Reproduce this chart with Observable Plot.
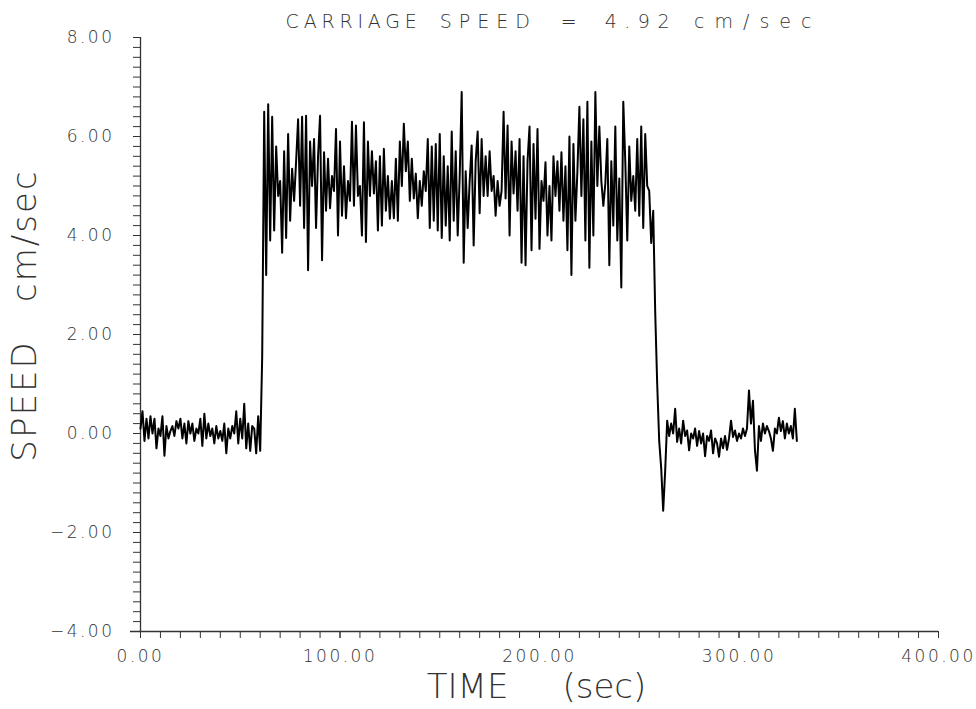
<!DOCTYPE html>
<html><head><meta charset="utf-8">
<script src="https://cdn.jsdelivr.net/npm/d3@7"></script>
<script src="https://cdn.jsdelivr.net/npm/@observablehq/plot@0.6"></script>
<style>body{margin:0;background:#fff}</style>
</head><body><div id="chart"></div>
<script>
const titleWords = ["CARRIAGE", "SPEED", "=", "4.92", "cm/sec"];
const titleSpacing = [4.8, 7, 0, 7.5, 10];
const titleGaps = [0, 18, 24, 28, 17];
const xLabel = "TIME\u00a0\u00a0\u00a0\u00a0\u00a0(sec)";
const yLabel = "SPEED\u00a0\u00a0\u00a0cm/sec";

// speed samples, one per second
const beforeStart = 0;
const beforeSpeed = [
  0.1, 0.45, -0.15, 0.3, -0.1, 0.35, 0.0, 0.3, -0.3, 0.1,
  -0.05, 0.35, -0.45, 0.15, -0.1, 0.05, 0.15, -0.05, 0.25, 0.1,
  0.3, -0.1, 0.2, -0.2, 0.25, 0.0, 0.2, -0.15, 0.1, 0.0,
  0.3, -0.25, 0.4, -0.1, 0.2, -0.05, 0.1, -0.2, 0.15, -0.1,
  0.05, -0.15, 0.2, -0.4, 0.1, -0.1, 0.15, 0.0, 0.45, -0.2,
  0.3, -0.1, 0.6, -0.3, 0.2, -0.35, 0.15, 0.1, -0.4, 0.35,
  -0.35
];
const runStart = 61;
const runSpeed = [
  1.55,
  6.5, 3.2, 6.65, 3.9, 6.4, 4.1, 5.8, 4.8, 5.1, 3.65,
  5.7, 3.95, 6.05, 4.3, 5.35, 4.7, 5.5, 6.35, 4.6, 6.4,
  4.15, 6.42, 3.3, 5.9, 5.0, 5.95, 4.15, 5.6, 6.42, 3.5,
  5.68, 4.5, 5.55, 4.55, 5.2, 4.9, 6.15, 4.0, 5.9, 4.4,
  5.4, 4.35, 5.1, 4.7, 6.3, 4.6, 6.22, 4.8, 5.0, 4.0,
  6.29, 3.87, 5.9, 4.8, 5.7, 4.85, 5.5, 4.1, 5.6, 4.2,
  5.75, 4.5, 5.2, 4.34, 5.1, 4.35, 5.55, 4.3, 5.9, 5.0,
  6.26, 5.3, 5.9, 4.7, 5.55, 4.75, 5.25, 4.35, 5.1, 4.6,
  5.3, 4.9, 5.95, 4.15, 5.8, 4.3, 5.85, 4.1, 6.05, 3.95,
  5.6, 4.2, 5.4, 3.9, 6.1, 4.3, 5.7, 4.0, 5.2, 6.9,
  3.45, 5.3, 4.15, 5.1, 5.82, 3.8, 5.5, 6.1, 4.45, 5.95,
  4.8, 5.6, 4.8, 5.7, 4.9, 5.2, 4.4, 5.1, 4.6, 4.9,
  6.5, 4.75, 6.22, 4.0, 5.9, 4.85, 5.7, 4.5, 5.95, 3.45,
  5.6, 3.4, 5.5, 6.2, 3.7, 5.85, 4.34, 6.15, 3.73, 5.1,
  4.7, 5.48, 4.0, 5.0, 3.9, 5.6, 4.8, 5.5, 4.5, 5.68,
  4.3, 5.4, 3.7, 6.0, 3.2, 5.85, 4.3, 5.3, 6.6, 4.8,
  6.35, 3.9, 6.7, 3.35, 5.9, 4.0, 6.9, 5.0, 6.2, 5.1,
  4.6, 5.05, 5.95, 3.4, 5.5, 4.2, 6.2, 3.9, 5.15, 2.95,
  6.7, 5.5, 3.9, 5.8, 4.7, 5.2, 4.5, 5.95, 4.4, 6.2,
  4.15, 6.05, 5.0, 4.9, 3.85, 4.5, 2.45
];
const afterStart = 259;
const afterSpeed = [
  1.0, -0.15, -0.7, -1.56, -0.75, 0.26, -0.05, 0.2, 0.0, 0.5,
  -0.17, 0.1, -0.2, 0.26, -0.05, 0.06, -0.34, 0.0, -0.1, 0.1,
  -0.25, 0.05, -0.2, 0.0, -0.46, -0.05, -0.15, 0.06, -0.4, -0.1,
  -0.2, -0.47, -0.1, -0.3, -0.05, -0.33, -0.1, 0.26, -0.07, 0.06,
  -0.15, 0.0, -0.1, 0.1, -0.05, 0.1, 0.87, 0.2, 0.66, -0.34,
  -0.75, 0.15, -0.15, 0.2, 0.0, 0.15, 0.05, -0.1, -0.35, 0.1,
  0.0, 0.32, 0.05, 0.25, -0.1, 0.2, 0.0, 0.15, -0.1, 0.5,
  -0.15
];

const xMajorTicks = [0, 100, 200, 300, 400];
const xMinorTicks = d3.range(0, 401, 10);
const yMajorTicks = [-4, -2, 0, 2, 4, 6, 8];
const yMinorTicks = d3.range(-20, 41).map(i => i / 5);

const data = [
  ...beforeSpeed.map((v, i) => ({t: beforeStart + i, v})),
  ...runSpeed.map((v, i) => ({t: runStart + i, v})),
  ...afterSpeed.map((v, i) => ({t: afterStart + i, v}))
];

const fmt = d3.format(".2f");
const ink = "#333";
const titleString = titleWords.join(" ");

const plot = Plot.plot({
  width: 976,
  height: 709,
  marginLeft: 140,
  marginRight: 38,
  marginTop: 37,
  marginBottom: 78,
  style: {fontFamily: "DejaVu Sans", fontSize: "17px", color: ink, background: "#fff"},
  x: {domain: [0, 400]},
  y: {domain: [-4, 8]},
  marks: [
    Plot.axisX(xMinorTicks, {tickSize: 7, tickFormat: () => "", label: null, stroke: ink}),
    Plot.axisX(xMajorTicks, {tickSize: 7, tickPadding: 11, tickFormat: fmt, label: null, fill: ink, fontSize: 17, fontWeight: 300}),
    Plot.axisY(yMinorTicks, {tickSize: 7, tickFormat: () => "", label: null, stroke: ink}),
    Plot.axisY(yMajorTicks, {tickSize: 7, tickPadding: 19, tickFormat: fmt, label: null, fill: ink, fontSize: 17, fontWeight: 300}),
    Plot.ruleY([-4], {stroke: ink, strokeWidth: 1.3, insetLeft: -10}),
    Plot.ruleX([0], {stroke: ink, strokeWidth: 1.3}),
    Plot.lineY(data, {x: "t", y: "v", stroke: "#000", strokeWidth: 2}),
    Plot.text([titleString], {frameAnchor: "top", dx: 14, dy: -10, lineAnchor: "bottom", textAnchor: "middle", fontSize: 19, fontWeight: 300, fill: ink}),
    Plot.text([xLabel], {frameAnchor: "bottom", dx: -3, dy: 66, lineAnchor: "bottom", textAnchor: "middle", fontSize: 34, fontWeight: 300, fill: ink}),
    Plot.text([yLabel], {frameAnchor: "left", dx: -115, dy: -19, rotate: -90, textAnchor: "middle", fontSize: 34, fontWeight: 300, fill: ink})
  ]
});
const texts = d3.select(plot).selectAll("text");
// title: plotter-style word spacing
texts.filter(function() { return this.textContent === titleString; }).each(function() {
  const t = d3.select(this);
  t.text(null);
  titleWords.forEach((w, i) => {
    t.append("tspan").attr("dx", titleGaps[i]).attr("letter-spacing", titleSpacing[i]).text(w);
  });
});
texts.filter(function() { return /^\u2212?\d+\.\d\d$/.test(this.textContent); }).attr("letter-spacing", 2.5);
texts.filter(function() { return this.textContent === yLabel; }).attr("letter-spacing", 2);
document.getElementById("chart").appendChild(plot);
</script>
</body></html>
